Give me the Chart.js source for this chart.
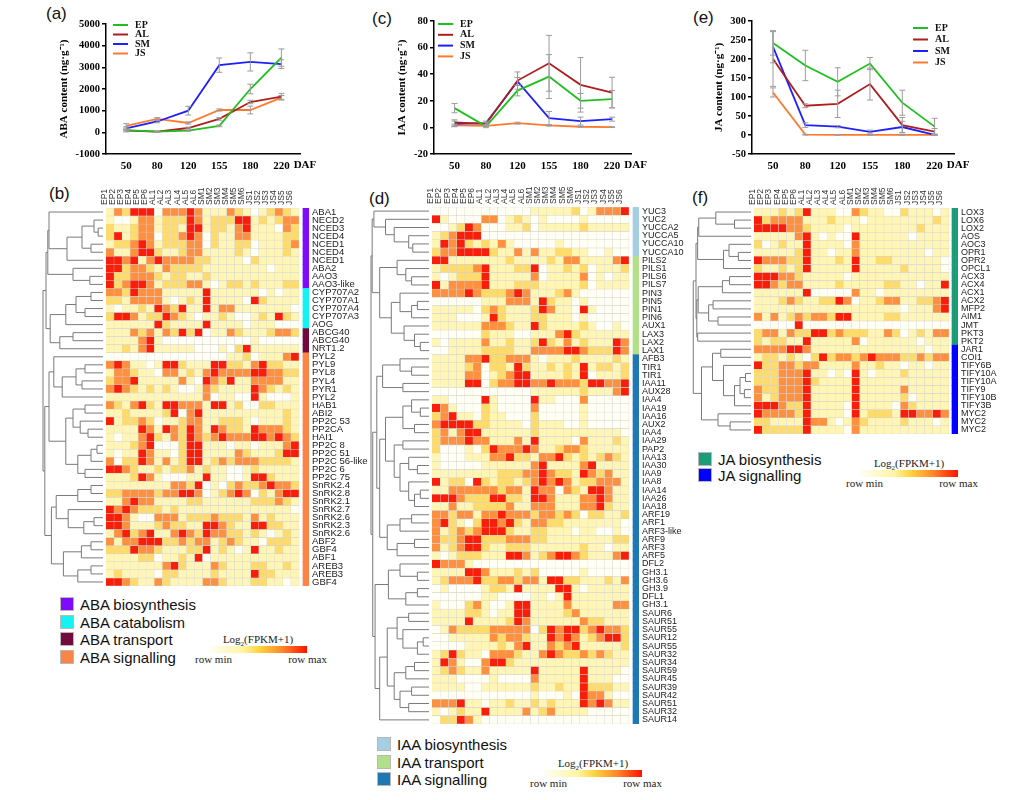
<!DOCTYPE html>
<html>
<head>
<meta charset="utf-8">
<script src="https://cdn.jsdelivr.net/npm/chart.js@4.4.1/dist/chart.umd.min.js"></script>
<style>
  body { margin: 0; background: #fff; }
  #page { position: relative; width: 1021px; height: 800px; overflow: hidden; font-family: "Liberation Sans", Arial, sans-serif; }
  .box { position: absolute; }
  .tag { position: absolute; font-size: 17px; line-height: 20px; color: #111; }
  .grp { position: absolute; font-size: 15px; line-height: 17.5px; color: #111; white-space: nowrap; }
  .grp span { display: inline-block; width: 12px; height: 12px; border: 1px solid #b8b8b8; margin-right: 6px; vertical-align: -1px; }
  .key { position: absolute; width: 98px; height: 34px; font-family: "Liberation Serif", serif; font-size: 11px; color: #222; white-space: nowrap; }
  .key .t { position: absolute; left: -20px; width: 138px; top: 0; text-align: center; line-height: 13px; }
  .key .t sub { font-size: 7px; }
  .key .b { position: absolute; left: 0; top: 13px; width: 98px; height: 7px;
            background: linear-gradient(to right, #fffef7, #fff4a0 35%, #ffd23c 52%, #ff8a2a 74%, #ff1400); }
  .key .mn { position: absolute; left: -14px; top: 20px; line-height: 13px; }
  .key .mx { position: absolute; right: -20px; top: 20px; line-height: 13px; }
</style>
</head>
<body>
<div id="page">
  <div class="tag" style="left:46px;top:4px">(a)</div>
  <div class="tag" style="left:49px;top:184px">(b)</div>
  <div class="tag" style="left:372px;top:9px">(c)</div>
  <div class="tag" style="left:369px;top:189px">(d)</div>
  <div class="tag" style="left:693px;top:8px">(e)</div>
  <div class="tag" style="left:692px;top:188px">(f)</div>

  <canvas id="lineA" class="box" width="262" height="180" style="left:58px;top:0"></canvas>
  <canvas id="lineC" class="box" width="264" height="180" style="left:396px;top:0"></canvas>
  <canvas id="lineE" class="box" width="287" height="180" style="left:713px;top:0"></canvas>

  <canvas id="heatB" class="box" width="350" height="428" style="left:30px;top:160px"></canvas>
  <canvas id="heatD" class="box" width="330" height="566" style="left:360px;top:160px"></canvas>
  <canvas id="heatF" class="box" width="336" height="276" style="left:685px;top:160px"></canvas>

  <div class="grp" style="left:60px;top:596px">
    <div><span style="background:#7f0cf8"></span>ABA biosynthesis</div>
    <div><span style="background:#14f2f2"></span>ABA catabolism</div>
    <div><span style="background:#720a3c"></span>ABA transport</div>
    <div><span style="background:#fd8447"></span>ABA signalling</div>
  </div>
  <div class="key" style="left:209px;top:633px"><div class="t">Log<sub>2</sub>(FPKM+1)</div><div class="b"></div><div class="mn">row min</div><div class="mx">row max</div></div>

  <div class="grp" style="left:377px;top:736px">
    <div><span style="background:#a6cee3"></span>IAA biosynthesis</div>
    <div><span style="background:#b2df8a"></span>IAA transport</div>
    <div><span style="background:#1f78b4"></span>IAA signalling</div>
  </div>
  <div class="key" style="left:544px;top:757px"><div class="t">Log<sub>2</sub>(FPKM+1)</div><div class="b"></div><div class="mn">row min</div><div class="mx">row max</div></div>

  <div class="grp" style="left:698px;top:452px;line-height:16px">
    <div><span style="background:#1b9e77"></span>JA biosynthesis</div>
    <div><span style="background:#0000ff"></span>JA signalling</div>
  </div>
  <div class="key" style="left:860px;top:457px"><div class="t">Log<sub>2</sub>(FPKM+1)</div><div class="b"></div><div class="mn">row min</div><div class="mx">row max</div></div>
</div>

<script>
// ===== hormone contents (a) (c) (e) =====
const daf = ['50', '80', '120', '155', '180', '220'];
const tissues = ['EP', 'AL', 'SM', 'JS'];
const lineColors = ['#1fbf1f', '#ad1f1f', '#1f1fff', '#ff7a2e'];

const abaEP = [100, 30, 80, 300, 2000, 3450];
const abaAL = [80, 30, 200, 620, 1400, 1650];
const abaSM = [180, 500, 1000, 3100, 3250, 3150];
const abaJS = [300, 620, 430, 1030, 1030, 1600];
const abaErrEP = [40, 20, 30, 40, 220, 400];
const abaErrAL = [60, 20, 40, 60, 80, 150];
const abaErrSM = [80, 60, 200, 330, 420, 200];
const abaErrJS = [100, 60, 50, 50, 180, 100];

const iaaEP = [14.5, 0.8, 27.7, 38.2, 20, 21.2];
const iaaAL = [3.7, 2.7, 35.2, 48.2, 32, 26.2];
const iaaSM = [2.7, 3.2, 34.5, 7, 4.7, 6.2];
const iaaJS = [1.5, 1.2, 3.2, 1.5, 0.5, 0.2];
const iaaErrEP = [3.5, 1, 4, 16.5, 5.5, 6.5];
const iaaErrAL = [2, 1, 6.5, 21, 20.5, 11.5];
const iaaErrSM = [2, 1.5, 3, 5, 3, 1.5];
const iaaErrJS = [1, 0.5, 0.7, 0.5, 0.3, 0.3];

const jaEP = [242, 183, 140, 188, 85, 22];
const jaAL = [200, 77, 82, 134, 26, 9];
const jaSM = [232, 26, 22, 8, 21, 0.5];
const jaJS = [112, 1, 0.5, 0.3, 0.3, 0.3];
const jaErrEP = [32, 40, 37, 16, 33, 22];
const jaErrAL = [72, 5, 36, 42, 20, 8];
const jaErrSM = [42, 6, 3, 5, 15, 2];
const jaErrJS = [12, 1, 1, 1, 1, 1];

// ===== heatmaps (b) (d) (f): row level 0 (row min) .. 4 (row max), one digit per sample =====
const samples = ['EP1', 'EP2', 'EP3', 'EP4', 'EP5', 'EP6', 'AL1', 'AL2', 'AL3', 'AL4', 'AL5', 'AL6',
                 'SM1', 'SM2', 'SM3', 'SM4', 'SM5', 'SM6', 'JS1', 'JS2', 'JS3', 'JS4', 'JS5', 'JS6'];
const heatStops = ['#fffff4', '#fff5b5', '#ffdb6c', '#ff9040', '#f81e0a'];

const abaGenes = ['ABA1', 'NECD2', 'NCED3', 'NCED4', 'NCED1', 'NCED4', 'NCED1', 'ABA2', 'AAO3', 'AAO3-like',
  'CYP707A2', 'CYP707A1', 'CYP707A4', 'CYP707A3', 'AOG', 'ABCG40', 'ABCG40', 'NRT1.2',
  'PYL2', 'PYL9', 'PYL8', 'PYL4', 'PYR1', 'PYL2', 'HAB1', 'ABI2', 'PP2C 53', 'PP2CA', 'HAI1', 'PP2C 8',
  'PP2C 51', 'PP2C 56-like', 'PP2C 6', 'PP2C 75', 'SnRK2.4', 'SnRK2.8', 'SnRK2.1', 'SnRK2.7', 'SnRK2.6',
  'SnRK2.3', 'SnRK2.6', 'ABF2', 'GBF4', 'ABF1', 'AREB3', 'AREB3', 'GBF4'];
const abaLevels = [
  '132444033343111321012321', '100133122243122244121233', '211233122144122134111032', '241233022343021133111122',
  '122343122233021122011123', '311344211233111121011121', '443413433332211110211111', '442332132222111111110111',
  '422333212211211111111111', '423443122233101221211122', '332433311111411111101011', '221333310121411110421111',
  '101121432411413311111110', '244312243210112100121421', '111111421111411110111000', '111323132424011321112332',
  '111134100000000000100000', '112134111110001024111111', '000000000000000112011134', '343110144211144221342211',
  '133211033121343333443322', '233411111310432411333311', '343212121001321111432121', '111111111111301100410001',
  '321342144333144120022111', '112111124034111111111121', '412232011233112221011121', '111143143243143221433321',
  '101134213243234333443432', '111234000244111011011134', '101143110244111132111244', '302243131244123233322221',
  '443211212231211001211111', '111243100011411001442111', '111111113324010232234332', '223333233443012343021344',
  '113433111122111111222321', '434322212111111111111110', '443100333122232221312111', '443111232211443211442211',
  '134234113432433221210121', '313344422323312321102221', '222433211122412101411211', '111122011214011111111111',
  '111111134211132111221121', '121111022111121111422111', '443211321111332111221101'];
const abaGroupSizes = [10, 5, 3, 29];
const abaGroupColors = ['#7f0cf8', '#14f2f2', '#720a3c', '#fd8447'];
// dendrogram: [height, upper, lower], leaves are row indexes
const abaTree = [1.0,
  [0.95, [0.92, [0.9, 0, [0.6, [0.35, [0.15, 1, [0.08, 2, 3]], [0.2, 4, 5]], 6]], [0.5, 7, [0.22, 8, 9]]],
         [0.88, [0.62, [0.45, [0.2, 10, 11], [0.3, 12, 13]], 14], [0.72, [0.5, 15, 16], 17]]],
  [0.97, [0.9, [0.82, 18, [0.68, [0.45, [0.3, 19, 20], [0.35, 21, 22]], 23]],
               [0.62, [0.5, [0.3, 24, 25], [0.38, 26, [0.25, 27, 28]]], [0.42, [0.2, [0.1, 29, 30], 31], [0.3, 32, 33]]]],
         [0.86, [0.78, [0.42, [0.2, 34, 35], 36], [0.58, 37, [0.32, [0.15, 38, 39], 40]]],
                [0.66, [0.36, [0.2, 41, 42], 43], [0.42, [0.2, 44, 45], 46]]]]];

const iaaGenes = ['YUC3', 'YUC2', 'YUCCA2', 'YUCCA5', 'YUCCA10', 'YUCCA10', 'PILS2', 'PILS1', 'PILS6', 'PILS7',
  'PIN3', 'PIN5', 'PIN1', 'PIN6', 'AUX1', 'LAX3', 'LAX2', 'LAX1', 'AFB3', 'TIR1', 'TIR1', 'IAA11', 'AUX28',
  'IAA4', 'IAA19', 'IAA16', 'AUX2', 'IAA4', 'IAA29', 'PAP2', 'IAA13', 'IAA30', 'IAA9', 'IAA8', 'IAA14', 'IAA26',
  'IAA18', 'ARF19', 'ARF1', 'ARF3-like', 'ARF9', 'ARF3', 'ARF5', 'DFL2', 'GH3.1', 'GH3.6', 'GH3.9', 'DFL1',
  'GH3.1', 'SAUR6', 'SAUR51', 'SAUR55', 'SAUR12', 'SAUR55', 'SAUR32', 'SAUR34', 'SAUR59', 'SAUR45', 'SAUR39',
  'SAUR42', 'SAUR51', 'SAUR32', 'SAUR14'];
const iaaLevels = [
  '000000000000111112013334', '410000330121010000100000', '001243000112011111211111', '123444000000000000000000',
  '143421213100000100000000', '233444421131311221100100', '441111111211112133111134', '122223411122401121201112',
  '101222411111301111301011', '413333411122211111201111', '333343222343111231000000', '000000111333142110100000',
  '111110232111243110410000', '111000142111221110100000', '111111333211421111210010', '000000211100111342111111',
  '101111311211242131211143', '001111222211333344322243', '111133422333101112111121', '111123022142112121412212',
  '111133012344111121401112', '111144023344334333244334', '000000000000111111211134', '110000410000411000300000',
  '431000210000300000100000', '234110211000200000100000', '344442211110211100100000', '231344111111211111111110',
  '233343311131411110311121', '200010243334311233211111', '100011133422133421212321', '100000111111341111341111',
  '111111112223343221432311', '412204212212343431223331', '113333332331433032144311', '444322244221443111334311',
  '113112222311333111334211', '332331334333233232022112', '342102443421332211111110', '312323444211221110110010',
  '322344222333221111111122', '312344211222111111211011', '101222111443123443211134', '433310000000000000000000',
  '111144311121200000100000', '123334223323314422111213', '010000122141111441011111', '000000110000110141111111',
  '100023100144111131111133', '111122101144111123111111', '111141111243111111322111', '013222233333024344234332',
  '001111132332114343123442', '000011112134113234111112', '124211033321134322323211', '143100344211111111111111',
  '123211311111411111411110', '111000010000311111411100', '111100111111211211422211', '000000000000100010433100',
  '333411011211212111434311', '101211411113123111100000', '022431000000000000000000'];
const iaaGroupSizes = [6, 12, 45];
const iaaGroupColors = ['#a6cee3', '#b2df8a', '#1f78b4'];
const iaaTree = [1.0,
  [0.98, [0.95, 0, [0.75, 1, [0.6, 2, [0.35, 3, [0.28, 4, 5]]]]],
         [0.85, [0.55, 6, [0.4, 7, [0.3, 8, 9]]],
                [0.65, [0.5, 10, [0.3, [0.2, 11, 12], 13]], [0.43, 14, [0.25, 15, [0.15, 16, 17]]]]]],
  [0.97, [0.9, [0.8, [0.5, 18, [0.3, 19, 20]], [0.45, 21, 22]],
               [0.85, [0.75, [0.45, [0.3, 23, [0.15, 24, 25]], [0.25, 26, 27]],
                             [0.6, [0.45, 28, 29], [0.5, [0.35, 30, [0.2, 31, 32]], [0.35, 33, [0.25, [0.15, 34, 35], 36]]]]],
                      [0.72, [0.5, [0.3, 37, 38], 39], [0.55, [0.25, 40, 41], 42]]]],
         [0.93, [0.7, [0.5, 43, [0.2, 44, 45]], [0.4, [0.2, 46, 47], 48]],
                [0.85, [0.72, [0.55, [0.35, 49, 50], [0.45, 51, [0.2, [0.1, 52, 53], 54]]],
                              [0.6, [0.4, [0.25, 55, 56], 57], [0.5, [0.3, 58, 59], [0.35, 60, 61]]]], 62]]]];

const jaGenes = ['LOX3', 'LOX6', 'LOX2', 'AOS', 'AOC3', 'OPR1', 'OPR2', 'OPCL1', 'ACX3', 'ACX4', 'ACX1', 'ACX2',
  'MFP2', 'AIM1', 'JMT', 'PKT3', 'PKT2', 'JAR1', 'COI1', 'TIFY6B', 'TIFY10A', 'TIFY10A', 'TIFY9', 'TIFY10B',
  'TIFY3B', 'MYC2', 'MYC2', 'MYC2'];
const jaLevels = [
  '111212411100321100211101', '423333111211101111111121', '444433211110111111112111', '111113410100411111101111',
  '201211411110311111111111', '111112411011311111111011', '433322411121411221111110', '211212411111411111211110',
  '444332111110111111111111', '443233111121111122110114', '111111400000311011111111', '111232112243011233112234',
  '111111111111111111011134', '313123233244111122111111', '000004000000000000000000', '233132244232221132012133',
  '212211411111301111110111', '333344311111111111111011', '122121024233234333223233', '422332331111311211011011',
  '222333411010410111211111', '222333421111411111111111', '322333411111411111311111', '312333411111411111201111',
  '444322411110411110321111', '433332411110412221443343', '221111433101321111211101', '422222411110311111111111'];
const jaGroupSizes = [17, 11];
const jaGroupColors = ['#1b9e77', '#0000ff'];
const jaTree = [1.05,
  [1.0, [0.97, [0.95, [0.64, 0, [0.3, 1, 2]], 3], [0.5, [0.4, 4, [0.23, 5, 6]], 7]],
        [0.985, [0.96, [0.52, [0.39, 8, 9], 10], [0.77, [0.69, 11, 12], [0.6, 13, 14]]], [0.97, 15, 16]]],
  [0.9, [0.7, [0.55, 17, 18], [0.5, 19, [0.3, [0.2, [0.1, 20, 21], [0.12, 22, 23]], 24]]], [0.6, 25, [0.38, 26, 27]]]];

Chart.defaults.font.family = '"Liberation Sans", Arial, sans-serif';
const serif = '"Liberation Serif", "Times New Roman", serif';

// ----- plugins -----
const errBars = {
  id: 'errBars',
  afterDatasetsDraw(chart) {
    const { ctx, scales: { x, y } } = chart;
    ctx.save();
    ctx.strokeStyle = '#9c9c9c';
    ctx.lineWidth = 1;
    chart.data.datasets.forEach(ds => {
      ds.data.forEach((p, i) => {
        const e = ds.err[i];
        if (!e) return;
        const px = x.getPixelForValue(p.x);
        const lo = y.getPixelForValue(p.y - e), hi = y.getPixelForValue(p.y + e);
        ctx.beginPath();
        ctx.moveTo(px, lo); ctx.lineTo(px, hi);
        ctx.moveTo(px - 3, lo); ctx.lineTo(px + 3, lo);
        ctx.moveTo(px - 3, hi); ctx.lineTo(px + 3, hi);
        ctx.stroke();
      });
    });
    ctx.restore();
  }
};

const miniLegend = {
  id: 'miniLegend',
  afterDraw(chart, args, o) {
    const ctx = chart.ctx;
    ctx.save();
    ctx.font = 'bold 10px ' + serif;
    ctx.textBaseline = 'middle';
    ctx.textAlign = 'left';
    chart.data.datasets.forEach((ds, i) => {
      const yy = o.y + i * o.gap;
      ctx.strokeStyle = ds.borderColor;
      ctx.lineWidth = 2;
      ctx.beginPath(); ctx.moveTo(o.x, yy); ctx.lineTo(o.x + 15, yy); ctx.stroke();
      ctx.fillStyle = '#111';
      ctx.fillText(ds.label, o.x + 22, yy);
    });
    // unit after the last x label, on the same baseline as the tick labels
    const xs = chart.scales.x;
    const last = daf.length - 1;
    ctx.font = 'bold 11px ' + serif;
    ctx.textBaseline = 'top';
    ctx.fillStyle = '#000';
    const w = ctx.measureText(daf[last]).width;
    ctx.fillText('DAF', xs.getPixelForValue(last) + w / 2 + 4, xs.top + 6);
    ctx.restore();
  }
};

function dendrogram(tree, width) {
  return {
    id: 'dendrogram',
    afterDraw(chart) {
      const ctx = chart.ctx, ys = chart.scales.y;
      const left = chart.chartArea.left - 3;
      const xOf = h => left - h * width;
      ctx.save();
      ctx.strokeStyle = '#7a7a7a';
      ctx.lineWidth = 1;
      const walk = n => {
        if (typeof n === 'number') return { y: ys.getPixelForValue(n), h: 0 };
        const a = walk(n[1]), b = walk(n[2]), x = xOf(n[0]);
        ctx.beginPath();
        ctx.moveTo(xOf(a.h), a.y); ctx.lineTo(x, a.y); ctx.lineTo(x, b.y); ctx.lineTo(xOf(b.h), b.y);
        ctx.stroke();
        return { y: (a.y + b.y) / 2, h: n[0] };
      };
      walk(tree);
      ctx.restore();
    }
  };
}

// ----- line charts -----
function lineChart(id, vals, errs, y, title, legendAt) {
  new Chart(document.getElementById(id), {
    type: 'line',
    data: {
      datasets: tissues.map((t, k) => ({
        label: t,
        data: vals[k].map((v, i) => ({ x: i, y: v })),
        err: errs[k],
        borderColor: lineColors[k],
        borderWidth: 1.8,
        pointRadius: 0,
        tension: 0
      }))
    },
    options: {
      responsive: false,
      animation: false,
      layout: { padding: { top: y.padTop, right: y.padRight } },
      plugins: { legend: { display: false }, tooltip: { enabled: false }, miniLegend: legendAt },
      scales: {
        x: {
          type: 'linear', min: -0.65, max: 5.6,
          afterBuildTicks: a => { a.ticks = daf.map((d, i) => ({ value: i })); },
          afterFit: a => { a.height = 26; },
          ticks: { callback: v => daf[v], color: '#000', padding: 6, font: { family: serif, weight: 'bold', size: 11 } },
          grid: { display: false, drawTicks: false },
          border: { color: '#000', width: 1.5 }
        },
        y: {
          min: y.min, max: y.max,
          afterFit: a => { a.width = y.width; },
          ticks: { stepSize: y.step, color: '#000', padding: 2, callback: v => String(v),
                   font: { family: serif, weight: 'bold', size: 10.5 } },
          grid: { drawOnChartArea: false, tickLength: 4, color: '#000', lineWidth: 1.5 },
          border: { color: '#000', width: 1.5 },
          title: { display: true, text: title, color: '#000', padding: { top: 0, bottom: 2 },
                   font: { family: serif, weight: 'bold', size: 11 } }
        }
      }
    },
    plugins: [errBars, miniLegend]
  });
}

lineChart('lineA', [abaEP, abaAL, abaSM, abaJS], [abaErrEP, abaErrAL, abaErrSM, abaErrJS],
  { min: -1000, max: 5000, step: 1000, width: 48, padTop: 24, padRight: 20 },
  'ABA content (ng·g⁻¹)', { x: 55, y: 25, gap: 9.5 });
lineChart('lineC', [iaaEP, iaaAL, iaaSM, iaaJS], [iaaErrEP, iaaErrAL, iaaErrSM, iaaErrJS],
  { min: -20, max: 80, step: 20, width: 38, padTop: 21, padRight: 29 },
  'IAA content (ng·g⁻¹)', { x: 42, y: 24, gap: 10.8 });
lineChart('lineE', [jaEP, jaAL, jaSM, jaJS], [jaErrEP, jaErrAL, jaErrSM, jaErrJS],
  { min: -50, max: 300, step: 50, width: 39, padTop: 21, padRight: 46 },
  'JA content (ng·g⁻¹)', { x: 200, y: 28, gap: 11.5 });

// ----- heatmaps -----
function heatmap(id, genes, levels, sizes, colors, tree, cfg) {
  const groupCol = [];
  sizes.forEach((n, g) => { for (let i = 0; i < n; i++) groupCol.push(colors[g]); });
  const datasets = samples.map((s, c) => ({
    label: s,
    data: genes.map(() => 1),
    backgroundColor: levels.map(r => heatStops[+r[c]]),
    borderColor: '#d0d0d0',
    borderWidth: 0.5
  }));
  datasets.push({ label: 'gap', data: genes.map(() => cfg.gap), backgroundColor: 'rgba(0,0,0,0)', borderWidth: 0 });
  datasets.push({ label: 'group', data: genes.map(() => cfg.band), backgroundColor: groupCol, borderWidth: 0 });

  new Chart(document.getElementById(id), {
    type: 'bar',
    data: { labels: genes, datasets },
    options: {
      indexAxis: 'y',
      responsive: false,
      animation: false,
      layout: { padding: { left: cfg.left, bottom: 2 } },
      plugins: { legend: { display: false }, tooltip: { enabled: false } },
      datasets: { bar: { barPercentage: 1, categoryPercentage: 1 } },
      scales: {
        x: {
          type: 'linear', position: 'top', stacked: true,
          min: 0, max: samples.length + cfg.gap + cfg.band,
          afterBuildTicks: a => { a.ticks = samples.map((s, i) => ({ value: i + 0.5 })); },
          afterFit: a => { a.height = cfg.top; a.paddingLeft = 0; a.paddingRight = 0; },
          ticks: { autoSkip: false, minRotation: 90, maxRotation: 90, padding: 3, labelOffset: 5, color: '#333',
                   font: { size: 8.5 }, callback: (v, i) => samples[i] },
          grid: { display: false, drawTicks: false },
          border: { display: false }
        },
        y: {
          position: 'right', stacked: true,
          afterFit: a => { a.width = cfg.right; a.paddingTop = 0; a.paddingBottom = 0; },
          ticks: { autoSkip: false, padding: 3, color: '#222', font: { size: cfg.font } },
          grid: { display: false, drawTicks: false },
          border: { display: false }
        }
      }
    },
    plugins: [dendrogram(tree, cfg.dendro)]
  });
}

heatmap('heatB', abaGenes, abaLevels, abaGroupSizes, abaGroupColors, abaTree,
  { left: 76, top: 48, right: 71, gap: 0.5, band: 0.75, font: 9.5, dendro: 60 });
heatmap('heatD', iaaGenes, iaaLevels, iaaGroupSizes, iaaGroupColors, iaaTree,
  { left: 72, top: 47, right: 51, gap: 0.49, band: 0.73, font: 9, dendro: 58 });
heatmap('heatF', jaGenes, jaLevels, jaGroupSizes, jaGroupColors, jaTree,
  { left: 69, top: 48, right: 63, gap: 0.37, band: 0.74, font: 9, dendro: 55 });
</script>
</body>
</html>
